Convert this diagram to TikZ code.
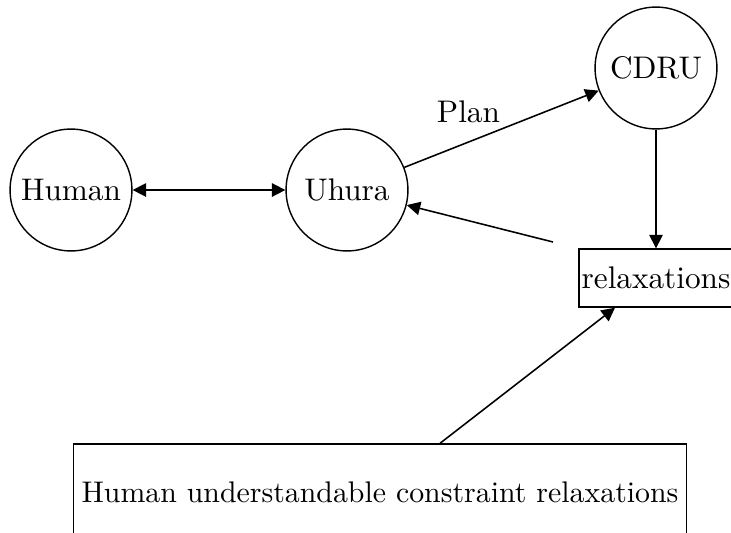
\documentclass[tikz,border=0pt]{standalone}
\usetikzlibrary{arrows.meta,calc}
\begin{document}
\begin{tikzpicture}[x=0.32pt,y=-0.32pt,
  every node/.style={inner sep=0pt},
  agent/.style={draw,circle,line width=0.45pt,minimum size=39pt},
  labelbox/.style={draw,rectangle,line width=0.45pt},
  arr/.style={line width=0.5pt,-{Triangle[length=4.3pt,width=4.3pt]}},
  biarr/.style={line width=0.5pt,{Triangle[length=4.3pt,width=4.3pt]}-{Triangle[length=4.3pt,width=4.3pt]}}]
  \useasboundingbox (0,0) rectangle (731,532);

  % agents
  \node[agent] (human) at (71,190) {Human};
  \node[agent] (uhura) at (347,190) {Uhura};
  \node[agent] (cdru) at (656,68) {CDRU};

  % result boxes
  \node[labelbox,minimum width=154*0.32pt,minimum height=58*0.32pt] (rel) at (656,278) {relaxations};
  \node[labelbox,minimum width=613*0.32pt,minimum height=96*0.32pt] (hucr) at (380,492)
    {\fontsize{9.55pt}{11pt}\selectfont Human understandable constraint relaxations};

  \coordinate (relout) at (553,242);

  % connectors
  \draw[biarr] (human) -- (uhura);
  \draw[arr] (uhura) -- node[pos=0.33,above=6pt] (plan) {Plan} (cdru);
  \draw[arr] (cdru) -- (rel);
  \draw[arr] (relout) -- (uhura);
  \draw[arr] ($(hucr.north)+(60,0)$) -- ($(rel.south)+(-41,0)$);
\end{tikzpicture}
\end{document}
